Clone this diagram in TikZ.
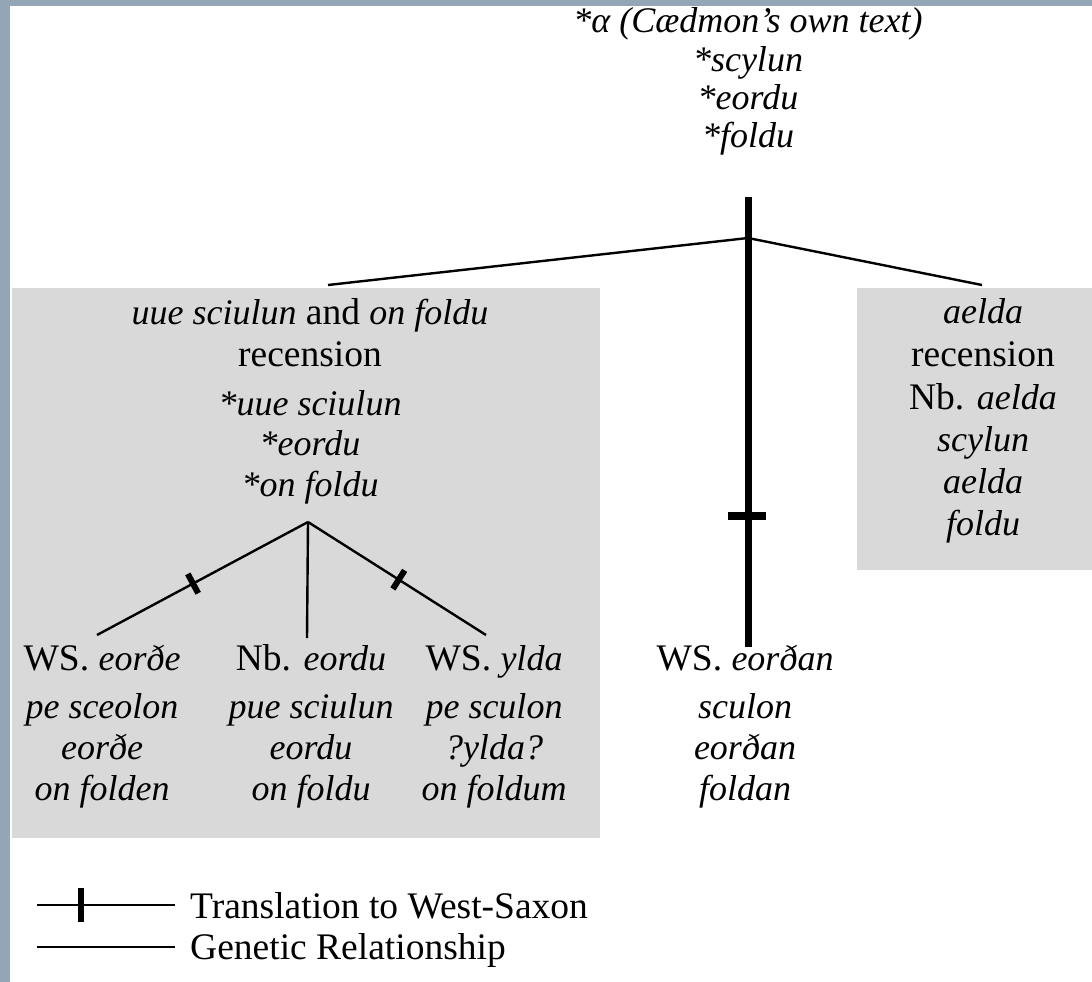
\documentclass[tikz,border=0pt]{standalone}
\usepackage{fontspec}
\setmainfont{Liberation Serif}[ItalicFeatures={Scale=0.96}]
\usetikzlibrary{calc}
\definecolor{frame}{RGB}{148,165,182}
\definecolor{panel}{RGB}{217,217,217}
\begin{document}
\begin{tikzpicture}[x=1pt,y=-1pt,
  txt/.style={inner sep=0pt, anchor=base, font=\fontsize{37.5}{42}\selectfont},
  genetic/.style={line width=2.4pt},
  translation/.style={line width=7pt},
  tickmark/.style={line width=6pt},
  crossbar/.style={line width=8pt}]
\useasboundingbox (0,0) rectangle (1092,982);
\fill[white] (0,0) rectangle (1092,982);
\fill[frame] (0,0) rectangle (1092,6);
\fill[frame] (0,0) rectangle (10,982);
% recension panels
\fill[panel] (12,288) rectangle (600,838);
\fill[panel] (857,288) rectangle (1092,570);

% archetype
\node[txt] (r1) at (748,33)  {\textit{*α (Cædmon’s own text)}};
\node[txt] (r2) at (748,71)  {\textit{*scylun}};
\node[txt] (r3) at (748,109) {\textit{*eordu}};
\node[txt] (r4) at (748,147) {\textit{*foldu}};

% uue sciulun / on foldu recension
\node[txt] (l1) at (310,324) {\textit{uue sciulun} and \textit{on foldu}};
\node[txt] (l2) at (310,366) {recension};
\node[txt] (l3) at (310,415) {\textit{*uue sciulun}};
\node[txt] (l4) at (310,455) {\textit{*eordu}};
\node[txt] (l5) at (310,496) {\textit{*on foldu}};

% aelda recension
\node[txt] (a1) at (983,323) {\textit{aelda}};
\node[txt] (a2) at (983,366) {recension};
\node[txt] (a3) at (983,409) {Nb. \textit{aelda}};
\node[txt] (a4) at (983,451) {\textit{scylun}};
\node[txt] (a5) at (983,493) {\textit{aelda}};
\node[txt] (a6) at (983,535) {\textit{foldu}};

% witnesses
\node[txt] (w1) at (102,670) {WS. \textit{eorðe}};
\node[txt] (w2) at (102,718) {\textit{pe sceolon}};
\node[txt] (w3) at (102,759) {\textit{eorðe}};
\node[txt] (w4) at (102,800) {\textit{on folden}};

\node[txt] (n1) at (311,670) {Nb. \textit{eordu}};
\node[txt] (n2) at (311,718) {\textit{pue sciulun}};
\node[txt] (n3) at (311,759) {\textit{eordu}};
\node[txt] (n4) at (311,800) {\textit{on foldu}};

\node[txt] (y1) at (494,670) {WS. \textit{ylda}};
\node[txt] (y2) at (494,718) {\textit{pe sculon}};
\node[txt] (y3) at (494,759) {\textit{?ylda?}};
\node[txt] (y4) at (494,800) {\textit{on foldum}};

\node[txt] (c1) at (745,670) {WS. \textit{eorðan}};
\node[txt] (c2) at (745,718) {\textit{sculon}};
\node[txt] (c3) at (745,759) {\textit{eorðan}};
\node[txt] (c4) at (745,800) {\textit{foldan}};

% stemma branch points
\coordinate (rootfoot) at (748,197);
\coordinate (J) at (748,238);
\coordinate (lrec) at (328,285);
\coordinate (arec) at (982,285);
\coordinate (wsend) at (748,647);
\coordinate (K) at (308,522);
\coordinate (wleft) at (97,635);
\coordinate (wmid) at (307,638);
\coordinate (wright) at (486,635);

% main trunk: translation to West-Saxon
\draw[translation] (rootfoot) -- (wsend);
\draw[crossbar] (728,516) -- (766,516);
\draw[genetic] (lrec) -- (J) -- (arec);

% lower branches
\draw[genetic] (K) -- (wleft);
\draw[genetic] (K) -- (wmid);
\draw[genetic] (K) -- (wright);
\coordinate (tl) at ($(K)!0.545!(wleft)$);
\coordinate (tr) at ($(K)!0.51!(wright)$);
\draw[tickmark] ($(tl)!11pt!90:(K)$) -- ($(tl)!11pt!-90:(K)$);
\draw[tickmark] ($(tr)!11pt!90:(K)$) -- ($(tr)!11pt!-90:(K)$);

% legend
\coordinate (g0) at (37,905);
\coordinate (g1) at (175,905);
\coordinate (h0) at (37,947);
\coordinate (h1) at (175,947);
\draw[genetic] (g0) -- (g1);
\draw[tickmark] (81,888) -- (81,922);
\draw[genetic] (h0) -- (h1);
\node[txt, anchor=base west] (lg1) at (190,918) {Translation to West-Saxon};
\node[txt, anchor=base west] (lg2) at (190,959) {Genetic Relationship};
\end{tikzpicture}
\end{document}
